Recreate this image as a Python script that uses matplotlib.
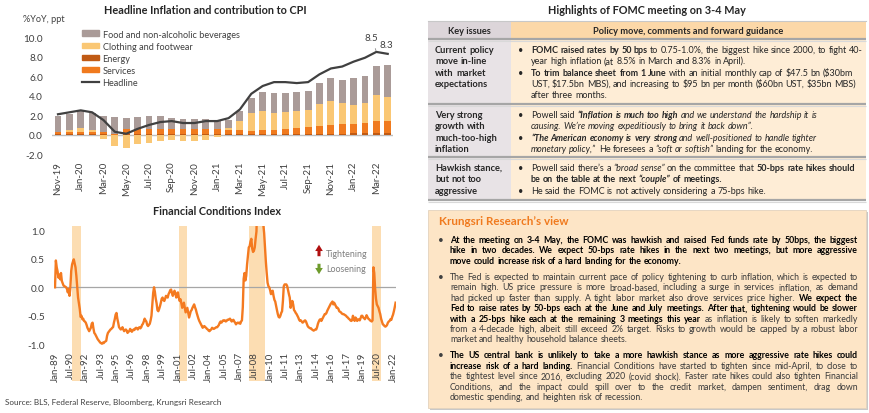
import numpy as np
import pandas as pd
import matplotlib
matplotlib.use('Agg')
import matplotlib.pyplot as plt
from matplotlib.patches import Rectangle, Patch
from matplotlib.lines import Line2D

plt.rcParams['font.family'] = ['Lato', 'DejaVu Sans']

# ---------------- DATA ----------------
cpi_months = ['Nov-19', 'Dec-19', 'Jan-20', 'Feb-20', 'Mar-20', 'Apr-20', 'May-20', 'Jun-20',
              'Jul-20', 'Aug-20', 'Sep-20', 'Oct-20', 'Nov-20', 'Dec-20', 'Jan-21', 'Feb-21',
              'Mar-21', 'Apr-21', 'May-21', 'Jun-21', 'Jul-21', 'Aug-21', 'Sep-21', 'Oct-21',
              'Nov-21', 'Dec-21', 'Jan-22', 'Feb-22', 'Mar-22', 'Apr-22']
food = [1.65, 1.65, 1.82, 1.81, 1.65, 1.72, 1.13, 1.27, 1.30, 1.26, 1.13, 1.02, 0.96, 0.96, 0.85,
        0.82, 0.96, 1.58, 1.88, 2.02, 1.89, 1.88, 1.95, 2.15, 2.33, 2.37, 2.74, 2.84, 2.98, 3.26]
clothing = [0.00, 0.24, 0.41, 0.18, -0.41, -1.20, -1.34, -0.92, -0.82, -0.65, -0.58, -0.68, -0.68,
            -0.51, -0.24, 0.20, 0.93, 1.78, 1.99, 1.75, 1.74, 1.79, 1.75, 2.23, 2.46, 2.15, 1.95,
            1.99, 2.74, 2.46]
energy = [0.05, 0.05, 0.05, 0.05, 0.04, 0.02, 0.03, 0.03, 0.04, 0.04, 0.04, 0.05, 0.05, 0.05, 0.06,
          0.07, 0.08, 0.08, 0.09, 0.09, 0.10, 0.10, 0.11, 0.11, 0.12, 0.12, 0.13, 0.13, 0.14, 0.14]
services = [0.22, 0.22, 0.22, 0.22, 0.23, 0.08, 0.59, 0.52, 0.58, 0.58, 0.58, 0.57, 0.57, 0.57, 0.56,
            0.43, 0.43, 0.33, 0.39, 0.39, 0.52, 0.58, 0.71, 0.81, 0.91, 0.98, 1.00, 1.10, 1.23, 1.30]
headline = [2.1, 2.3, 2.5, 2.3, 1.5, 0.3, 0.1, 0.6, 1.0, 1.3, 1.4, 1.2, 1.2, 1.4, 1.4, 1.7, 2.6,
            4.2, 5.0, 5.4, 5.4, 5.3, 5.4, 6.2, 6.8, 7.0, 7.5, 7.9, 8.5, 8.3]
cpi_labels = ['Food and non-alcoholic beverages', 'Clothing and footwear', 'Energy', 'Services', 'Headline']

fci_start = '1989-01-01'
fci_values = [
    0.00, 0.47, 0.35, 0.28, 0.17, 0.22, 0.14, 0.25, 0.11, 0.07, 0.03, 0.02,          # 1989
    0.01, 0.00, -0.03, -0.09, -0.03, -0.15, 0.00, 0.29, 0.40, 0.45, 0.49, 0.42,      # 1990
    0.35, 0.20, 0.00, -0.18, -0.28, -0.38, -0.52, -0.50, -0.56, -0.55, -0.59, -0.60, # 1991
    -0.62, -0.66, -0.71, -0.74, -0.77, -0.74, -0.71, -0.64, -0.62, -0.72, -0.80, -0.82,  # 1992
    -0.85, -0.88, -0.91, -0.93, -0.95, -0.97, -0.98, -0.99, -0.97, -0.98, -0.96, -0.95,  # 1993
    -0.94, -0.85, -0.80, -0.78, -0.76, -0.74, -0.73, -0.71, -0.70, -0.62, -0.56, -0.48,  # 1994
    -0.45, -0.55, -0.62, -0.70, -0.72, -0.74, -0.73, -0.70, -0.74, -0.77, -0.75, -0.74,  # 1995
    -0.76, -0.80, -0.78, -0.77, -0.73, -0.75, -0.78, -0.76, -0.74, -0.75, -0.72, -0.71,  # 1996
    -0.72, -0.74, -0.71, -0.70, -0.72, -0.70, -0.66, -0.64, -0.60, -0.55, -0.58, -0.60,  # 1997
    -0.66, -0.68, -0.66, -0.64, -0.58, -0.50, -0.30, -0.10, 0.00, -0.08, -0.20, -0.28,   # 1998
    -0.40, -0.42, -0.38, -0.33, -0.27, -0.20, -0.18, -0.22, -0.24, -0.20, -0.15, -0.17,  # 1999
    -0.18, -0.12, -0.09, -0.05, -0.04, -0.10, -0.15, -0.10, -0.06, -0.10, -0.18, -0.14,  # 2000
    -0.09, -0.18, -0.24, -0.21, -0.28, -0.36, -0.32, -0.27, -0.35, -0.44, -0.40, -0.36,  # 2001
    -0.45, -0.53, -0.48, -0.42, -0.40, -0.36, -0.33, -0.30, -0.35, -0.39, -0.45, -0.50,  # 2002
    -0.55, -0.59, -0.62, -0.65, -0.68, -0.71, -0.69, -0.68, -0.70, -0.71, -0.73, -0.74,  # 2003
    -0.76, -0.77, -0.75, -0.74, -0.71, -0.72, -0.73, -0.72, -0.71, -0.70, -0.70, -0.68,  # 2004
    -0.66, -0.62, -0.60, -0.62, -0.60, -0.58, -0.59, -0.58, -0.60, -0.59, -0.57, -0.57,  # 2005
    -0.56, -0.55, -0.58, -0.60, -0.58, -0.57, -0.60, -0.62, -0.65, -0.63, -0.62, -0.63,  # 2006
    -0.62, -0.64, -0.60, -0.58, -0.35, 0.15, 0.25, 0.12, 0.20, 0.40, 0.55, 0.70,         # 2007
    0.72, 0.80, 0.85, 0.68, 0.62, 0.64, 0.70, 0.85, 0.98, 1.60, 2.20, 2.00,              # 2008
    1.90, 1.70, 1.50, 1.20, 1.10, 0.95, 0.70, 0.45, 0.25, 0.08, 0.02, 0.00,              # 2009
    -0.05, -0.12, -0.08, -0.06, -0.15, -0.22, -0.25, -0.33, -0.40, -0.47, -0.52, -0.53,  # 2010
    -0.50, -0.45, -0.42, -0.24, 0.02, 0.05, 0.05, 0.05, 0.02, -0.05, -0.12, -0.18,       # 2011
    -0.36, -0.30, -0.24, -0.30, -0.40, -0.42, -0.45, -0.47, -0.50, -0.53, -0.57, -0.59,  # 2012
    -0.58, -0.60, -0.62, -0.61, -0.59, -0.58, -0.60, -0.64, -0.68, -0.70, -0.71, -0.72,  # 2013
    -0.72, -0.74, -0.75, -0.76, -0.75, -0.74, -0.74, -0.70, -0.64, -0.60, -0.57, -0.56,  # 2014
    -0.59, -0.56, -0.53, -0.50, -0.47, -0.47, -0.45, -0.41, -0.38, -0.35, -0.32, -0.29,  # 2015
    -0.27, -0.25, -0.30, -0.27, -0.30, -0.33, -0.36, -0.36, -0.38, -0.42, -0.43, -0.44,  # 2016
    -0.46, -0.47, -0.47, -0.48, -0.49, -0.50, -0.52, -0.53, -0.55, -0.56, -0.58, -0.59,  # 2017
    -0.58, -0.50, -0.55, -0.59, -0.53, -0.55, -0.59, -0.57, -0.56, -0.58, -0.54, -0.50,  # 2018
    -0.50, -0.53, -0.54, -0.56, -0.53, -0.49, -0.52, -0.55, -0.56, -0.58, -0.59, -0.60,  # 2019
    -0.58, 0.35, 0.25, -0.02, -0.20, -0.30, -0.33, -0.36, -0.42, -0.47, -0.55, -0.60,    # 2020
    -0.65, -0.66, -0.68, -0.69, -0.68, -0.66, -0.62, -0.60, -0.59, -0.56, -0.57, -0.52,  # 2021
    -0.48, -0.42, -0.35, -0.27,                                                          # 2022
]
fci_tick_labels = ['Jan-89', 'Jul-90', 'Jan-92', 'Jul-93', 'Jan-95', 'Jul-96', 'Jan-98', 'Jul-99',
                   'Jan-01', 'Jul-02', 'Jan-04', 'Jul-05', 'Jan-07', 'Jul-08', 'Jan-10', 'Jul-11',
                   'Jan-13', 'Jul-14', 'Jan-16', 'Jul-17', 'Jan-19', 'Jul-20', 'Jan-22']
recession_start = [1990.67, 2001.10, 2007.95, 2019.95]
recession_end = [1991.50, 2001.90, 2009.50, 2020.85]

# ---------------- STYLE ----------------
W, H = 870, 414
C_FOOD = '#AA9B98'
C_CLOTH = '#FAC774'
C_ENERGY = '#C05A14'
C_SERV = '#F07A1E'
C_HEAD = '#404040'
C_FCI = '#F47A20'
C_SHADE = '#FCDDB2'
TXT = '#404040'

fig = plt.figure(figsize=(W / 100, H / 100), dpi=100)
fig.patch.set_facecolor('white')


def rect(l, t, r, b):
    return [l / W, 1 - b / H, (r - l) / W, (b - t) / H]


# ---------------- Top-left: CPI contributions ----------------
ax1 = fig.add_axes(rect(52.3, 34.4, 393.4, 155.2))
x = np.arange(len(cpi_months))
e = np.array(energy)
s = np.array(services)
c = np.array(clothing)
f = np.array(food)
bw = 0.6
ax1.bar(x, e, bw, color=C_ENERGY, zorder=2)
ax1.bar(x, s, bw, bottom=e, color=C_SERV, zorder=2)
ax1.bar(x, c, bw, bottom=np.where(c > 0, e + s, 0), color=C_CLOTH, zorder=2)
ax1.bar(x, f, bw, bottom=e + s + np.clip(c, 0, None), color=C_FOOD, zorder=2)
ax1.plot(x, headline, color=C_HEAD, lw=1.6, zorder=3, solid_joinstyle='round')
ax1.axhline(0, color='#BFBFBF', lw=1.0, zorder=1)
ax1.set_xlim(-0.5, len(cpi_months) - 0.5)
ax1.set_ylim(-2.0, 10.4)
yt = np.arange(-2, 10.1, 2)
ax1.set_yticks(yt)
ax1.set_yticklabels([f'{v:.1f}' for v in yt])
ax1.set_xticks(x[::2])
ax1.set_xticklabels(cpi_months[::2], rotation=90)
ax1.tick_params(axis='y', length=0, pad=6.7, labelsize=7.2, labelcolor=TXT)
ax1.tick_params(axis='x', length=0, pad=4.8, labelsize=7.0, labelcolor=TXT)
for sp in ax1.spines.values():
    sp.set_visible(False)
ax1.patch.set_alpha(0)
ax1.annotate(f'{headline[-2]:.1f}', xy=(x[-2], headline[-2]), xytext=(27.6, 10.0),
             ha='center', va='center', fontsize=7, color=TXT,
             arrowprops=dict(arrowstyle='-', color='#8C8C8C', lw=0.6, shrinkA=3, shrinkB=1))
ax1.text(28.9, 9.3, f'{headline[-1]:.1f}', ha='center', va='center', fontsize=7, color=TXT)
handles = [Patch(color=C_FOOD), Patch(color=C_CLOTH), Patch(color=C_ENERGY), Patch(color=C_SERV),
           Line2D([], [], color=C_HEAD, lw=1.6)]
leg = ax1.legend(handles, cpi_labels, loc='upper left', bbox_to_anchor=(82 / W, 1 - 30.5 / H),
                 bbox_transform=fig.transFigure, frameon=False, fontsize=6.6,
                 handlelength=1.9, handleheight=0.55, labelspacing=0.33, handletextpad=0.35,
                 borderaxespad=0, borderpad=0)
for t in leg.get_texts():
    t.set_color(TXT)

# ---------------- Bottom-left: Financial Conditions Index ----------------
ax2 = fig.add_axes(rect(54.5, 226.7, 395.6, 349.3))
dates = pd.date_range(fci_start, periods=len(fci_values), freq='MS')
t_dec = dates.year + (dates.month - 1) / 12.0
for a, b in zip(recession_start, recession_end):
    ax2.axvspan(a, b, ymin=-0.27, ymax=1.0, color=C_SHADE, lw=0, clip_on=False, zorder=0)
ax2.axhline(0, color='#A6A6A6', lw=0.9, zorder=1)
ax2.plot(t_dec, fci_values, color=C_FCI, lw=1.7, zorder=2, solid_joinstyle='round')
ax2.set_xlim(1988.95, 2022.25)
ax2.set_ylim(-1.07, 1.08)
ytk = [-1.0, -0.5, 0.0, 0.5, 1.0]
ax2.set_yticks(ytk)
ax2.set_yticklabels([f'{v:.1f}' for v in ytk])
mon = {'Jan': 0, 'Jul': 6}
tick_pos = [2000 + int(l[4:]) - (100 if int(l[4:]) > 50 else 0) + mon[l[:3]] / 12 for l in fci_tick_labels]
ax2.set_xticks(tick_pos)
ax2.set_xticklabels(fci_tick_labels, rotation=90)
ax2.tick_params(axis='y', length=0, pad=6.8, labelsize=7.2, labelcolor=TXT)
ax2.tick_params(axis='x', length=0, pad=2.2, labelsize=7.0, labelcolor=TXT)
for sp in ax2.spines.values():
    sp.set_visible(False)
ax2.patch.set_alpha(0)

# ---------------- Overlay (pixel coordinates) ----------------
ov = fig.add_axes([0, 0, 1, 1])
ov.set_xlim(0, W)
ov.set_ylim(H, 0)
ov.axis('off')
ov.patch.set_alpha(0)

DARK = '#262626'
ov.text(205.5, 11, 'Headline Inflation and contribution to CPI', ha='center', va='center',
        fontsize=7.8, fontweight='bold', color=DARK)
ov.text(23, 20, '%YoY, ppt', ha='left', va='center', fontsize=6.6, color=TXT)
ov.text(217.5, 212, 'Financial Conditions Index', ha='center', va='center',
        fontsize=7.8, fontweight='bold', color=DARK)
ov.text(5, 402, 'Source: BLS, Federal Reserve, Bloomberg, Krungsri Research', ha='left', va='center',
        fontsize=5.9, color=TXT)
ov.annotate('', xy=(319, 243), xytext=(319, 260),
            arrowprops=dict(arrowstyle='simple,head_width=0.55,head_length=0.45,tail_width=0.22',
                            color='#B01010', lw=0))
ov.annotate('', xy=(319, 278), xytext=(319, 262),
            arrowprops=dict(arrowstyle='simple,head_width=0.55,head_length=0.45,tail_width=0.22',
                            color='#6E9B2C', lw=0))
ov.text(326, 254.5, 'Tightening', ha='left', va='center', fontsize=6.4, color='#7F7F7F')
ov.text(326, 269.5, 'Loosening', ha='left', va='center', fontsize=6.4, color='#7F7F7F')

# ---------------- Rich-text helpers ----------------
R = fig.canvas.get_renderer()
STY = {'r': {}, 'b': {'fontweight': 'bold'}, 'i': {'fontstyle': 'italic'},
       'bi': {'fontweight': 'bold', 'fontstyle': 'italic'}}


def mk(xp, yp, sx, size, st, color):
    return ov.text(xp, yp, sx, fontsize=size, color=color, ha='left', va='baseline',
                   parse_math=False, **STY[st])


def wid(t):
    return t.get_window_extent(R).width


_sp = {}


def space_w(size):
    if size not in _sp:
        a = mk(0, 0, 'n n', size, 'r', 'k')
        b = mk(0, 0, 'nn', size, 'r', 'k')
        _sp[size] = wid(a) - wid(b)
        a.remove()
        b.remove()
    return _sp[size]


def words_of(runs):
    return [(w, st) for text, st in runs for w in text.split()]


def natural(runs, size):
    ws = words_of(runs)
    tot = 0
    for w, st in ws:
        t = mk(0, 0, w, size, st, 'k')
        tot += wid(t)
        t.remove()
    return tot + space_w(size) * (len(ws) - 1)


def draw_runs(xp, yc, runs, size, colors, right=None):
    ws = words_of(runs)
    yb = yc + 0.44 * size
    objs = [mk(0, yb, w, size, st, colors.get(st, colors['r'])) for w, st in ws]
    widths = [wid(o) for o in objs]
    if right is not None and len(objs) > 1:
        gap = (right - xp - sum(widths)) / (len(objs) - 1)
    else:
        gap = space_w(size)
    cx = xp
    for o, w in zip(objs, widths):
        o.set_x(cx)
        cx += w + gap


# ---------------- Top-right: FOMC table ----------------
ov.text(647, 11, 'Highlights of FOMC meeting on 3-4 May', ha='center', va='center',
        fontsize=7.8, fontweight='bold', color=DARK)
TL, TM, TR = 428, 511, 866
ov.add_patch(Rectangle((TL, 22), TM - TL, 18, facecolor='#DCD5D9', lw=0))
ov.add_patch(Rectangle((TM, 22), TR - TM, 18, facecolor='#FCD8A8', lw=0))
ov.add_patch(Rectangle((TL, 40), TM - TL, 161, facecolor='#E8E3E6', lw=0))
ov.add_patch(Rectangle((TM, 40), TR - TM, 161, facecolor='#FEEDD6', lw=0))
ov.plot([TL, TR], [22, 22], color='#C8C8C8', lw=0.8)
for yy in [40, 105, 158, 201]:
    ov.plot([TL, TR], [yy, yy], color='#A6A6A6', lw=1.6, solid_capstyle='butt')
    ov.plot([TL, TR], [yy + 1.6, yy + 1.6], color='#D9D9D9', lw=0.8, solid_capstyle='butt')

row1 = [
    (50.0, True, [('FOMC raised rates by 50 bps', 'b'), ('to 0.75-1.0%, the biggest hike since 2000, to fight 40-', 'r')]),
    (61.3, False, [('year high inflation (at 8.5% in March and 8.3% in April).', 'r')]),
    (72.7, True, [('To trim balance sheet from 1 June', 'b'), ('with an initial monthly cap of $47.5 bn ($30bm', 'r')]),
    (84.0, False, [('UST, $17.5bn MBS), and increasing to $95 bn per month ($60bn UST, $35bn MBS)', 'r')]),
    (95.5, False, [('after three months.', 'r')]),
]
row2 = [
    (115.0, True, [('Powell said', 'r'), ('\u201cInflation is much too high', 'bi'), ('and we understand the hardship it is', 'i')]),
    (126.3, False, [('causing. We\u2019re moving expeditiously to bring it back down\u201d.', 'i')]),
    (137.7, True, [('\u201cThe American economy is very strong', 'bi'), ('and well-positioned to handle tighter', 'i')]),
    (149.0, False, [('monetary policy,\u201d', 'i'), ('He foresees a', 'r'), ('\u201csoft or softish\u201d', 'i'), ('landing for the economy.', 'r')]),
]
row3 = [
    (168.0, True, [('Powell said there\u2019s a', 'r'), ('\u201cbroad sense\u201d', 'i'), ('on the committee that', 'r'), ('50-bps rate hikes should', 'b')]),
    (179.3, False, [('be on the table at the next', 'b'), ('\u201ccouple\u201d', 'bi'), ('of meetings.', 'b')]),
    (190.7, True, [('He said the FOMC is not actively considering a 75-bps hike.', 'r')]),
]
left_col = [
    (50.0, 'Current policy'), (61.3, 'move in-line'), (72.7, 'with market'), (84.0, 'expectations'),
    (115.0, 'Very strong'), (126.3, 'growth with'), (137.7, 'much-too-high'), (149.0, 'inflation'),
    (168.0, 'Hawkish stance,'), (179.3, 'but not too'), (190.7, 'aggressive'),
]
BASE = 7.0
tsize = round(BASE * (864 - 531) / natural(row1[0][2], BASE), 2)
tcol = {'r': DARK, 'b': DARK, 'i': DARK, 'bi': DARK}
ov.text((TL + TM) / 2, 31, 'Key issues', ha='center', va='center', fontsize=tsize + 0.2,
        fontweight='bold', color=DARK)
ov.text((TM + TR) / 2, 31, 'Policy move, comments and forward guidance', ha='center', va='center',
        fontsize=tsize + 0.2, fontweight='bold', color=DARK)
for yy, txt in left_col:
    draw_runs(435, yy, [(txt, 'b')], tsize + 0.2, tcol)
for yy, bullet, runs in row1 + row2 + row3:
    if bullet:
        ov.text(521, yy + 0.44 * tsize, '\u2022', ha='center', va='baseline', fontsize=tsize, color=DARK)
    draw_runs(531, yy, runs, tsize, tcol)

# ---------------- Bottom-right: Krungsri view ----------------
KL, KT, KR, KB = 428, 211, 866, 409
ov.add_patch(Rectangle((KL + 2, KT + 2), KR - KL, KB - KT, facecolor='#C8C8C8', lw=0))
ov.add_patch(Rectangle((KL, KT), KR - KL, KB - KT, facecolor='#FDE5C6', edgecolor='#E3D3BE', lw=0.6))
ov.text(439, 222, 'Krungsri Research\u2019s view', ha='left', va='center', fontsize=8.4,
        fontweight='bold', color='#F07A1E')

para1 = [
    [('At the meeting on 3-4 May, the FOMC was hawkish and raised Fed funds rate by 50bps, the biggest', 'b')],
    [('hike in two decades. We expect 50-bps rate hikes in the next two meetings, but more aggressive', 'b')],
    [('move could increase risk of a hard landing for the economy.', 'b')],
]
para2 = [
    [('The Fed is expected to maintain current pace of policy tightening to curb inflation, which is expected to', 'r')],
    [('remain high. US price pressure is more broad-based, including a surge in services inflation, as demand', 'r')],
    [('had picked up faster than supply. A tight labor market also drove services price higher.', 'r'), ('We expect the', 'b')],
    [('Fed to raise rates by 50-bps each at the June and July meetings. After that, tightening would be slower', 'b')],
    [('with a 25-bps hike each at the remaining 3 meetings this year', 'b'), ('as inflation is likely to soften markedly', 'r')],
    [('from a 4-decade high, albeit still exceed 2% target. Risks to growth would be capped by a robust labor', 'r')],
    [('market and healthy household balance sheets.', 'r')],
]
para3 = [
    [('The US central bank is unlikely to take a more hawkish stance as more aggressive rate hikes could', 'b')],
    [('increase risk of a hard landing.', 'b'), ('Financial Conditions have started to tighten since mid-April, to close to', 'r')],
    [('the tightest level since 2016, excluding 2020 (covid shock). Faster rate hikes could also tighten Financial', 'r')],
    [('Conditions, and the impact could spill over to the credit market, dampen sentiment, drag down', 'r')],
    [('domestic spending, and heighten risk of recession.', 'r')],
]
KX0, KX1 = 450, 858
just_lines = [ln_ for p in (para1, para2, para3) for ln_ in p[:-1]]
ksize = round(BASE * min((KX1 - KX0) / natural(l, BASE) for l in just_lines) * 0.995, 2)
kcol = {'r': '#3A3A3A', 'b': '#000000'}
step = 10.4
for y0, para in [(240.0, para1), (277.3, para2), (355.7, para3)]:
    ov.text(441, y0 + 0.44 * ksize, '\u2022', ha='center', va='baseline', fontsize=ksize + 1,
            color='#404040')
    for i, runs in enumerate(para):
        last = i == len(para) - 1
        draw_runs(KX0, y0 + i * step, runs, ksize, kcol, right=None if last else KX1)

fig.savefig('out.png', dpi=100, facecolor='white')
